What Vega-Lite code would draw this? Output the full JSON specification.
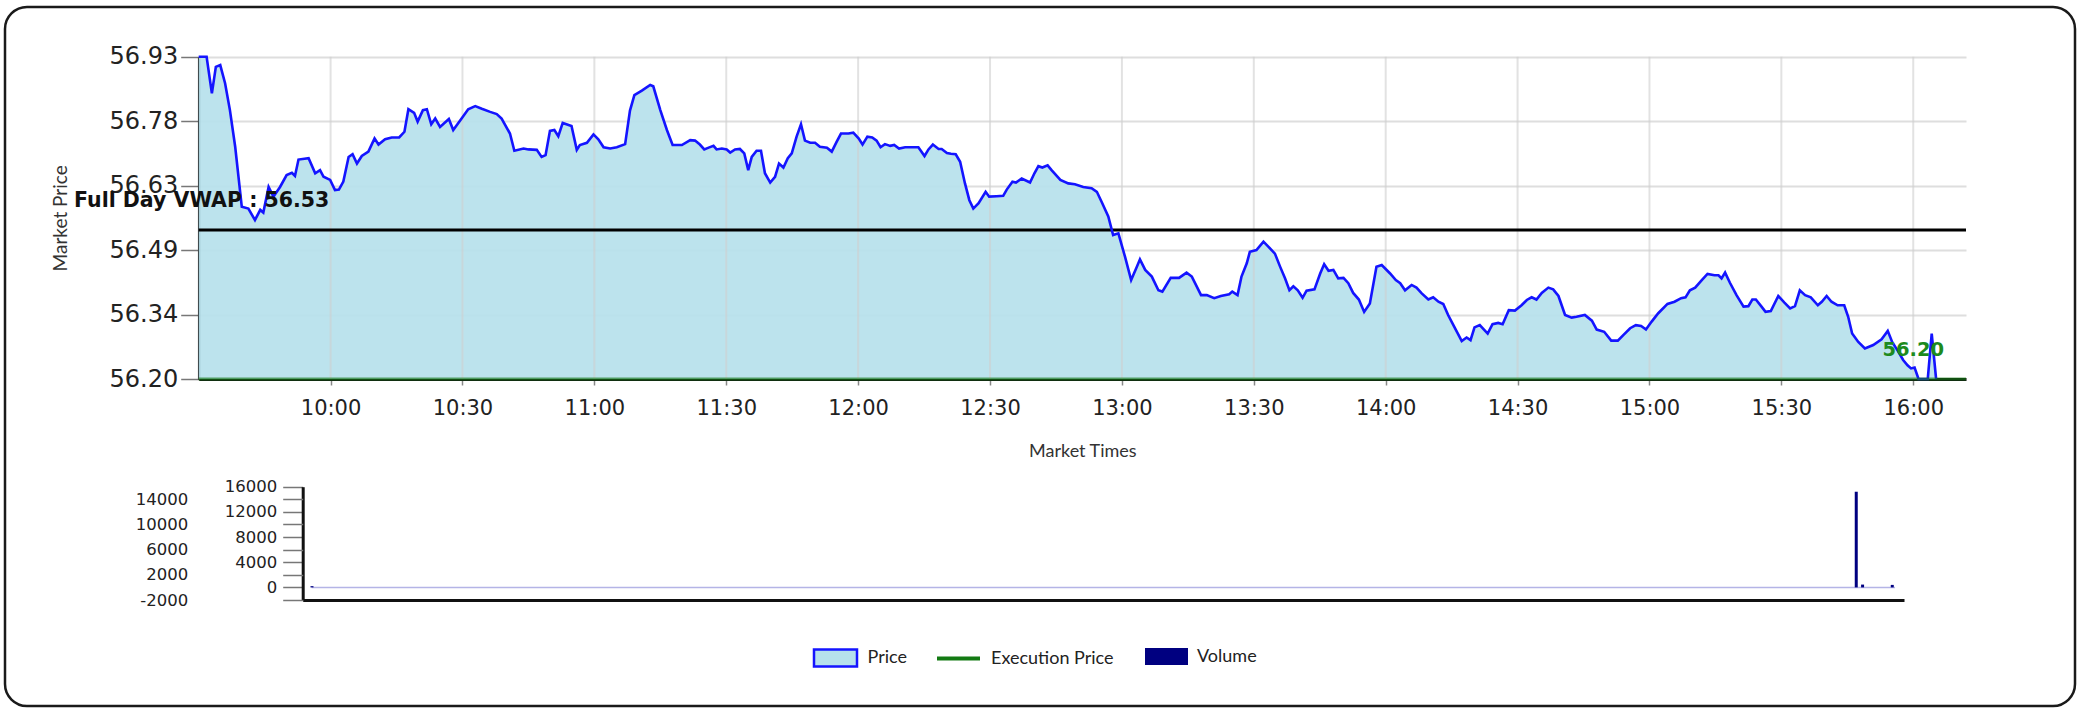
{
  "$schema": "https://vega.github.io/schema/vega-lite/v6.json",
  "width": 2070,
  "height": 699,
  "autosize": "none",
  "padding": {"left": 5, "top": 7, "right": 5, "bottom": 3},
  "background": "white",
  "config": {
    "view": {"stroke": "#1a1a1a", "strokeWidth": 2.5, "cornerRadius": 22},
    "font": "Lato"
  },
  "datasets": {
    "price": [
      {"t":"2020-01-02T09:30:00","p":56.93},{"t":"2020-01-02T09:31:48","p":56.93},{"t":"2020-01-02T09:33:00","p":56.847},{"t":"2020-01-02T09:33:54","p":56.907},{"t":"2020-01-02T09:34:54","p":56.911},
      {"t":"2020-01-02T09:36:00","p":56.870},{"t":"2020-01-02T09:37:06","p":56.809},{"t":"2020-01-02T09:38:18","p":56.726},{"t":"2020-01-02T09:39:48","p":56.590},{"t":"2020-01-02T09:41:18","p":56.586},
      {"t":"2020-01-02T09:42:48","p":56.560},{"t":"2020-01-02T09:44:00","p":56.583},{"t":"2020-01-02T09:44:42","p":56.577},{"t":"2020-01-02T09:45:54","p":56.635},{"t":"2020-01-02T09:47:00","p":56.613},
      {"t":"2020-01-02T09:48:30","p":56.635},{"t":"2020-01-02T09:50:00","p":56.662},{"t":"2020-01-02T09:51:12","p":56.667},{"t":"2020-01-02T09:51:54","p":56.660},{"t":"2020-01-02T09:52:42","p":56.697},
      {"t":"2020-01-02T09:55:00","p":56.700},{"t":"2020-01-02T09:56:30","p":56.666},{"t":"2020-01-02T09:57:36","p":56.673},{"t":"2020-01-02T09:58:24","p":56.658},{"t":"2020-01-02T09:59:54","p":56.651},
      {"t":"2020-01-02T10:01:00","p":56.628},{"t":"2020-01-02T10:01:54","p":56.629},{"t":"2020-01-02T10:02:54","p":56.647},{"t":"2020-01-02T10:04:06","p":56.703},{"t":"2020-01-02T10:05:00","p":56.709},
      {"t":"2020-01-02T10:06:00","p":56.688},{"t":"2020-01-02T10:07:06","p":56.705},{"t":"2020-01-02T10:08:36","p":56.715},{"t":"2020-01-02T10:10:00","p":56.745},{"t":"2020-01-02T10:10:54","p":56.731},
      {"t":"2020-01-02T10:12:24","p":56.743},{"t":"2020-01-02T10:13:54","p":56.747},{"t":"2020-01-02T10:15:36","p":56.747},{"t":"2020-01-02T10:16:48","p":56.760},{"t":"2020-01-02T10:17:42","p":56.811},
      {"t":"2020-01-02T10:19:00","p":56.803},{"t":"2020-01-02T10:19:48","p":56.783},{"t":"2020-01-02T10:21:00","p":56.809},{"t":"2020-01-02T10:21:54","p":56.811},{"t":"2020-01-02T10:22:54","p":56.777},
      {"t":"2020-01-02T10:23:48","p":56.790},{"t":"2020-01-02T10:24:54","p":56.771},{"t":"2020-01-02T10:26:54","p":56.789},{"t":"2020-01-02T10:27:54","p":56.764},{"t":"2020-01-02T10:29:48","p":56.790},
      {"t":"2020-01-02T10:31:18","p":56.811},{"t":"2020-01-02T10:32:54","p":56.818},{"t":"2020-01-02T10:34:24","p":56.812},{"t":"2020-01-02T10:36:18","p":56.805},{"t":"2020-01-02T10:37:48","p":56.800},
      {"t":"2020-01-02T10:38:54","p":56.790},{"t":"2020-01-02T10:40:48","p":56.756},{"t":"2020-01-02T10:41:48","p":56.717},{"t":"2020-01-02T10:43:54","p":56.722},{"t":"2020-01-02T10:45:00","p":56.720},
      {"t":"2020-01-02T10:46:54","p":56.719},{"t":"2020-01-02T10:48:00","p":56.703},{"t":"2020-01-02T10:48:54","p":56.707},{"t":"2020-01-02T10:49:54","p":56.762},{"t":"2020-01-02T10:50:54","p":56.764},
      {"t":"2020-01-02T10:51:48","p":56.750},{"t":"2020-01-02T10:52:48","p":56.780},{"t":"2020-01-02T10:54:48","p":56.773},{"t":"2020-01-02T10:56:00","p":56.719},{"t":"2020-01-02T10:56:42","p":56.730},
      {"t":"2020-01-02T10:58:18","p":56.735},{"t":"2020-01-02T10:59:48","p":56.754},{"t":"2020-01-02T11:00:54","p":56.743},{"t":"2020-01-02T11:02:06","p":56.725},{"t":"2020-01-02T11:03:36","p":56.722},
      {"t":"2020-01-02T11:05:06","p":56.725},{"t":"2020-01-02T11:07:00","p":56.732},{"t":"2020-01-02T11:08:06","p":56.808},{"t":"2020-01-02T11:09:06","p":56.843},{"t":"2020-01-02T11:10:48","p":56.853},
      {"t":"2020-01-02T11:12:42","p":56.866},{"t":"2020-01-02T11:13:24","p":56.863},{"t":"2020-01-02T11:15:00","p":56.809},{"t":"2020-01-02T11:16:30","p":56.764},{"t":"2020-01-02T11:17:48","p":56.730},
      {"t":"2020-01-02T11:19:54","p":56.730},{"t":"2020-01-02T11:21:48","p":56.741},{"t":"2020-01-02T11:22:54","p":56.740},{"t":"2020-01-02T11:24:00","p":56.731},{"t":"2020-01-02T11:25:00","p":56.720},
      {"t":"2020-01-02T11:26:00","p":56.724},{"t":"2020-01-02T11:27:06","p":56.728},{"t":"2020-01-02T11:27:48","p":56.720},{"t":"2020-01-02T11:29:00","p":56.722},{"t":"2020-01-02T11:30:06","p":56.720},
      {"t":"2020-01-02T11:30:54","p":56.713},{"t":"2020-01-02T11:32:00","p":56.720},{"t":"2020-01-02T11:33:06","p":56.721},{"t":"2020-01-02T11:34:06","p":56.711},{"t":"2020-01-02T11:35:00","p":56.673},
      {"t":"2020-01-02T11:35:48","p":56.703},{"t":"2020-01-02T11:36:54","p":56.717},{"t":"2020-01-02T11:37:54","p":56.717},{"t":"2020-01-02T11:38:48","p":56.666},{"t":"2020-01-02T11:40:00","p":56.645},
      {"t":"2020-01-02T11:41:06","p":56.658},{"t":"2020-01-02T11:42:00","p":56.688},{"t":"2020-01-02T11:43:00","p":56.679},{"t":"2020-01-02T11:44:00","p":56.700},{"t":"2020-01-02T11:44:54","p":56.711},
      {"t":"2020-01-02T11:46:00","p":56.749},{"t":"2020-01-02T11:47:00","p":56.777},{"t":"2020-01-02T11:47:54","p":56.740},{"t":"2020-01-02T11:49:06","p":56.735},{"t":"2020-01-02T11:50:12","p":56.735},
      {"t":"2020-01-02T11:51:18","p":56.726},{"t":"2020-01-02T11:52:54","p":56.724},{"t":"2020-01-02T11:54:00","p":56.715},{"t":"2020-01-02T11:55:06","p":56.737},{"t":"2020-01-02T11:56:06","p":56.756},
      {"t":"2020-01-02T11:57:48","p":56.756},{"t":"2020-01-02T11:58:54","p":56.758},{"t":"2020-01-02T12:00:06","p":56.745},{"t":"2020-01-02T12:01:00","p":56.731},{"t":"2020-01-02T12:02:06","p":56.749},
      {"t":"2020-01-02T12:03:12","p":56.747},{"t":"2020-01-02T12:04:12","p":56.740},{"t":"2020-01-02T12:05:06","p":56.725},{"t":"2020-01-02T12:06:06","p":56.732},{"t":"2020-01-02T12:07:18","p":56.728},
      {"t":"2020-01-02T12:08:12","p":56.730},{"t":"2020-01-02T12:09:18","p":56.722},{"t":"2020-01-02T12:10:42","p":56.725},{"t":"2020-01-02T12:12:36","p":56.725},{"t":"2020-01-02T12:13:42","p":56.725},
      {"t":"2020-01-02T12:15:06","p":56.705},{"t":"2020-01-02T12:16:00","p":56.720},{"t":"2020-01-02T12:17:00","p":56.731},{"t":"2020-01-02T12:18:18","p":56.721},{"t":"2020-01-02T12:19:00","p":56.721},
      {"t":"2020-01-02T12:20:12","p":56.712},{"t":"2020-01-02T12:21:06","p":56.710},{"t":"2020-01-02T12:22:12","p":56.709},{"t":"2020-01-02T12:23:12","p":56.692},{"t":"2020-01-02T12:24:18","p":56.643},
      {"t":"2020-01-02T12:25:18","p":56.605},{"t":"2020-01-02T12:26:12","p":56.586},{"t":"2020-01-02T12:27:24","p":56.598},{"t":"2020-01-02T12:29:00","p":56.624},{"t":"2020-01-02T12:29:48","p":56.613},
      {"t":"2020-01-02T12:31:30","p":56.614},{"t":"2020-01-02T12:33:00","p":56.615},{"t":"2020-01-02T12:33:48","p":56.629},{"t":"2020-01-02T12:35:06","p":56.647},{"t":"2020-01-02T12:35:54","p":56.645},
      {"t":"2020-01-02T12:37:12","p":56.654},{"t":"2020-01-02T12:39:06","p":56.645},{"t":"2020-01-02T12:40:06","p":56.666},{"t":"2020-01-02T12:41:00","p":56.682},{"t":"2020-01-02T12:41:54","p":56.679},
      {"t":"2020-01-02T12:43:06","p":56.684},{"t":"2020-01-02T12:44:00","p":56.673},{"t":"2020-01-02T12:46:00","p":56.651},{"t":"2020-01-02T12:47:48","p":56.643},{"t":"2020-01-02T12:49:18","p":56.641},
      {"t":"2020-01-02T12:51:12","p":56.635},{"t":"2020-01-02T12:53:06","p":56.632},{"t":"2020-01-02T12:54:18","p":56.624},{"t":"2020-01-02T12:55:24","p":56.601},{"t":"2020-01-02T12:56:54","p":56.568},
      {"t":"2020-01-02T12:58:00","p":56.526},{"t":"2020-01-02T12:59:12","p":56.530},{"t":"2020-01-02T13:00:42","p":56.477},{"t":"2020-01-02T13:02:06","p":56.424},{"t":"2020-01-02T13:03:24","p":56.454},
      {"t":"2020-01-02T13:04:06","p":56.471},{"t":"2020-01-02T13:05:18","p":56.447},{"t":"2020-01-02T13:06:48","p":56.432},{"t":"2020-01-02T13:08:18","p":56.401},{"t":"2020-01-02T13:09:12","p":56.398},
      {"t":"2020-01-02T13:11:06","p":56.429},{"t":"2020-01-02T13:13:00","p":56.429},{"t":"2020-01-02T13:14:42","p":56.441},{"t":"2020-01-02T13:15:54","p":56.432},{"t":"2020-01-02T13:18:00","p":56.390},
      {"t":"2020-01-02T13:19:18","p":56.390},{"t":"2020-01-02T13:21:00","p":56.383},{"t":"2020-01-02T13:22:30","p":56.388},{"t":"2020-01-02T13:24:24","p":56.392},{"t":"2020-01-02T13:25:06","p":56.398},
      {"t":"2020-01-02T13:26:18","p":56.390},{"t":"2020-01-02T13:27:12","p":56.432},{"t":"2020-01-02T13:28:24","p":56.462},{"t":"2020-01-02T13:29:06","p":56.488},{"t":"2020-01-02T13:30:36","p":56.492},
      {"t":"2020-01-02T13:32:12","p":56.511},{"t":"2020-01-02T13:33:18","p":56.500},{"t":"2020-01-02T13:34:48","p":56.484},{"t":"2020-01-02T13:36:00","p":56.454},{"t":"2020-01-02T13:37:06","p":56.428},
      {"t":"2020-01-02T13:38:06","p":56.401},{"t":"2020-01-02T13:39:00","p":56.410},{"t":"2020-01-02T13:40:00","p":56.401},{"t":"2020-01-02T13:41:06","p":56.384},{"t":"2020-01-02T13:42:00","p":56.400},
      {"t":"2020-01-02T13:43:48","p":56.403},{"t":"2020-01-02T13:45:06","p":56.439},{"t":"2020-01-02T13:46:00","p":56.460},{"t":"2020-01-02T13:47:00","p":56.445},{"t":"2020-01-02T13:48:06","p":56.447},
      {"t":"2020-01-02T13:49:12","p":56.428},{"t":"2020-01-02T13:50:24","p":56.429},{"t":"2020-01-02T13:51:30","p":56.417},{"t":"2020-01-02T13:52:36","p":56.395},{"t":"2020-01-02T13:53:54","p":56.380},
      {"t":"2020-01-02T13:55:06","p":56.352},{"t":"2020-01-02T13:56:24","p":56.371},{"t":"2020-01-02T13:57:54","p":56.454},{"t":"2020-01-02T13:59:06","p":56.458},{"t":"2020-01-02T14:01:00","p":56.439},
      {"t":"2020-01-02T14:02:18","p":56.424},{"t":"2020-01-02T14:03:18","p":56.417},{"t":"2020-01-02T14:04:24","p":56.401},{"t":"2020-01-02T14:05:54","p":56.413},{"t":"2020-01-02T14:07:00","p":56.407},
      {"t":"2020-01-02T14:08:12","p":56.394},{"t":"2020-01-02T14:09:42","p":56.380},{"t":"2020-01-02T14:10:48","p":56.385},{"t":"2020-01-02T14:12:00","p":56.375},{"t":"2020-01-02T14:13:06","p":56.370},
      {"t":"2020-01-02T14:14:12","p":56.345},{"t":"2020-01-02T14:15:24","p":56.322},{"t":"2020-01-02T14:17:18","p":56.286},{"t":"2020-01-02T14:18:24","p":56.294},{"t":"2020-01-02T14:19:18","p":56.288},
      {"t":"2020-01-02T14:20:12","p":56.317},{"t":"2020-01-02T14:21:24","p":56.322},{"t":"2020-01-02T14:23:12","p":56.303},{"t":"2020-01-02T14:24:18","p":56.324},{"t":"2020-01-02T14:25:36","p":56.327},
      {"t":"2020-01-02T14:26:36","p":56.324},{"t":"2020-01-02T14:28:00","p":56.356},{"t":"2020-01-02T14:29:24","p":56.355},{"t":"2020-01-02T14:30:54","p":56.367},{"t":"2020-01-02T14:32:06","p":56.379},
      {"t":"2020-01-02T14:33:12","p":56.385},{"t":"2020-01-02T14:34:18","p":56.380},{"t":"2020-01-02T14:35:30","p":56.395},{"t":"2020-01-02T14:37:00","p":56.407},{"t":"2020-01-02T14:38:06","p":56.403},
      {"t":"2020-01-02T14:39:18","p":56.388},{"t":"2020-01-02T14:40:48","p":56.345},{"t":"2020-01-02T14:42:18","p":56.339},{"t":"2020-01-02T14:43:24","p":56.341},{"t":"2020-01-02T14:45:18","p":56.345},
      {"t":"2020-01-02T14:46:54","p":56.332},{"t":"2020-01-02T14:48:00","p":56.312},{"t":"2020-01-02T14:49:42","p":56.307},{"t":"2020-01-02T14:51:18","p":56.287},{"t":"2020-01-02T14:52:48","p":56.287},
      {"t":"2020-01-02T14:54:06","p":56.300},{"t":"2020-01-02T14:55:36","p":56.315},{"t":"2020-01-02T14:56:54","p":56.322},{"t":"2020-01-02T14:58:06","p":56.320},{"t":"2020-01-02T14:59:12","p":56.312},
      {"t":"2020-01-02T15:00:30","p":56.330},{"t":"2020-01-02T15:02:00","p":56.349},{"t":"2020-01-02T15:04:06","p":56.370},{"t":"2020-01-02T15:05:42","p":56.375},{"t":"2020-01-02T15:07:12","p":56.383},
      {"t":"2020-01-02T15:08:12","p":56.385},{"t":"2020-01-02T15:09:12","p":56.401},{"t":"2020-01-02T15:10:24","p":56.407},{"t":"2020-01-02T15:11:54","p":56.424},{"t":"2020-01-02T15:13:12","p":56.438},
      {"t":"2020-01-02T15:14:48","p":56.435},{"t":"2020-01-02T15:15:42","p":56.435},{"t":"2020-01-02T15:16:24","p":56.428},{"t":"2020-01-02T15:17:12","p":56.441},{"t":"2020-01-02T15:18:18","p":56.418},
      {"t":"2020-01-02T15:19:48","p":56.390},{"t":"2020-01-02T15:21:24","p":56.364},{"t":"2020-01-02T15:22:30","p":56.365},{"t":"2020-01-02T15:23:24","p":56.380},{"t":"2020-01-02T15:24:12","p":56.380},
      {"t":"2020-01-02T15:25:24","p":56.365},{"t":"2020-01-02T15:26:24","p":56.352},{"t":"2020-01-02T15:27:36","p":56.354},{"t":"2020-01-02T15:29:18","p":56.388},{"t":"2020-01-02T15:30:42","p":56.373},
      {"t":"2020-01-02T15:32:00","p":56.360},{"t":"2020-01-02T15:33:06","p":56.365},{"t":"2020-01-02T15:34:12","p":56.401},{"t":"2020-01-02T15:35:24","p":56.390},{"t":"2020-01-02T15:36:42","p":56.385},
      {"t":"2020-01-02T15:38:18","p":56.367},{"t":"2020-01-02T15:39:12","p":56.375},{"t":"2020-01-02T15:40:18","p":56.388},{"t":"2020-01-02T15:41:24","p":56.375},{"t":"2020-01-02T15:42:48","p":56.367},
      {"t":"2020-01-02T15:44:18","p":56.367},{"t":"2020-01-02T15:45:12","p":56.341},{"t":"2020-01-02T15:46:06","p":56.303},{"t":"2020-01-02T15:47:30","p":56.284},{"t":"2020-01-02T15:49:00","p":56.269},
      {"t":"2020-01-02T15:50:54","p":56.277},{"t":"2020-01-02T15:52:48","p":56.290},{"t":"2020-01-02T15:54:12","p":56.309},{"t":"2020-01-02T15:55:12","p":56.284},{"t":"2020-01-02T15:56:36","p":56.262},
      {"t":"2020-01-02T15:57:42","p":56.243},{"t":"2020-01-02T15:58:42","p":56.231},{"t":"2020-01-02T15:59:30","p":56.224},{"t":"2020-01-02T16:00:18","p":56.226},{"t":"2020-01-02T16:01:12","p":56.20},
      {"t":"2020-01-02T16:03:18","p":56.20},{"t":"2020-01-02T16:04:12","p":56.303},{"t":"2020-01-02T16:05:12","p":56.20}
    ],
    "grid": [
      {"t":"2020-01-02T10:00:00"},{"t":"2020-01-02T10:30:00"},{"t":"2020-01-02T11:00:00"},{"t":"2020-01-02T11:30:00"},{"t":"2020-01-02T12:00:00"},{"t":"2020-01-02T12:30:00"},{"t":"2020-01-02T13:00:00"},
      {"t":"2020-01-02T13:30:00"},{"t":"2020-01-02T14:00:00"},{"t":"2020-01-02T14:30:00"},{"t":"2020-01-02T15:00:00"},{"t":"2020-01-02T15:30:00"},{"t":"2020-01-02T16:00:00"}
    ],
    "lines": [
      {"t0":"2020-01-02T09:30:00","t1":"2020-01-02T16:12:00","tx":"2020-01-02T16:00:00","vwap":56.5375,"exec":56.2,"vlabel":"Full Day VWAP : 56.53","elabel":"56.20"}
    ],
    "zero": [{"t0":"2020-01-02T09:31:00","t1":"2020-01-02T16:11:00","v":0}],
    "vol": [
      {"t":"2020-01-02T09:31:05","v":200},{"t":"2020-01-02T16:01:12","v":15200},{"t":"2020-01-02T16:02:48","v":450},{"t":"2020-01-02T16:10:18","v":400}
    ]
  },
  "resolve": {"scale": {"x": "independent", "y": "independent"}, "axis": {"x": "independent", "y": "independent"}},
  "layer": [
    {
      "layer": [
        {
          "data": {"name": "price"},
          "mark": {"type": "area", "fillOpacity": 0.92},
          "encoding": {
            "x": {"field": "t", "type": "temporal", "scale": {"domain": [{"year":2020,"month":1,"date":2,"hours":9,"minutes":30},{"year":2020,"month":1,"date":2,"hours":16,"minutes":12}], "range": [193.7, 1961]},
              "axis": {"orient": "bottom", "offset": -327, "format": "%H:%M",
                "values": [{"year":2020,"month":1,"date":2,"hours":10,"minutes":0},{"year":2020,"month":1,"date":2,"hours":10,"minutes":30},{"year":2020,"month":1,"date":2,"hours":11,"minutes":0},{"year":2020,"month":1,"date":2,"hours":11,"minutes":30},{"year":2020,"month":1,"date":2,"hours":12,"minutes":0},{"year":2020,"month":1,"date":2,"hours":12,"minutes":30},{"year":2020,"month":1,"date":2,"hours":13,"minutes":0},{"year":2020,"month":1,"date":2,"hours":13,"minutes":30},{"year":2020,"month":1,"date":2,"hours":14,"minutes":0},{"year":2020,"month":1,"date":2,"hours":14,"minutes":30},{"year":2020,"month":1,"date":2,"hours":15,"minutes":0},{"year":2020,"month":1,"date":2,"hours":15,"minutes":30},{"year":2020,"month":1,"date":2,"hours":16,"minutes":0}],
                "labelFont": "DejaVu Sans", "labelFontSize": 21, "labelColor": "#222", "labelPadding": 12, "labelFlush": false, "labelOverlap": false,
                "tickSize": 6, "tickColor": "#888", "tickWidth": 1.5, "domainColor": "#111", "domainWidth": 3, "grid": false,
                "title": "Market Times", "titleFont": "Lato", "titleFontSize": 18, "titleFontWeight": "normal", "titleColor": "#333", "titlePadding": 24}},
            "y": {"field": "p", "type": "quantitative", "scale": {"domain": [56.2, 56.93], "range": [372, 49.7], "zero": false, "nice": false},
              "axis": {"orient": "left", "offset": -193.7, "values": [56.2, 56.346, 56.492, 56.638, 56.784, 56.93],
                "labelExpr": "format(floor(datum.value*100+0.001)/100, '.2f')",
                "labelFont": "DejaVu Sans", "labelFontSize": 24, "labelColor": "#222", "labelPadding": 3, "labelOverlap": false,
                "tickSize": 18, "tickColor": "#777", "tickWidth": 1.5, "domainColor": "#111", "domainWidth": 2.5,
                "grid": true, "gridColor": "#dedede", "gridWidth": 2,
                "title": "Market Price", "titleFont": "Lato", "titleFontSize": 19, "titleFontWeight": "normal", "titleColor": "#333", "titlePadding": 38}},
            "y2": {"datum": 56.2},
            "fill": {"datum": "Price", "type": "nominal",
              "scale": {"domain": ["Price"], "range": ["#b6e1ec"]},
              "legend": {"orient": "none", "legendX": 807.5, "legendY": 628, "title": null,
                "symbolType": "M-1,-0.4H1V0.4H-1Z", "symbolSize": 1849, "symbolStrokeColor": "#1414ff", "symbolStrokeWidth": 2.5,
                "labelFont": "Lato", "labelFontSize": 18, "labelColor": "#222", "labelOffset": 9, "padding": 0}}
          }
        },
        {
          "data": {"name": "grid"},
          "mark": {"type": "rule", "color": "#cfcfcf", "strokeWidth": 2, "opacity": 0.6},
          "encoding": {
            "x": {"field": "t", "type": "temporal", "scale": {"domain": [{"year":2020,"month":1,"date":2,"hours":9,"minutes":30},{"year":2020,"month":1,"date":2,"hours":16,"minutes":12}], "range": [193.7, 1961]}},
            "y": {"datum": 56.2, "type": "quantitative", "scale": {"domain": [56.2, 56.93], "range": [372, 49.7], "zero": false, "nice": false}},
            "y2": {"datum": 56.93}
          }
        },
        {
          "data": {"name": "lines"},
          "mark": {"type": "rule", "color": "#000000", "strokeWidth": 3},
          "encoding": {
            "x": {"field": "t0", "type": "temporal", "scale": {"domain": [{"year":2020,"month":1,"date":2,"hours":9,"minutes":30},{"year":2020,"month":1,"date":2,"hours":16,"minutes":12}], "range": [193.7, 1961]}},
            "x2": {"field": "t1"},
            "y": {"field": "vwap", "type": "quantitative", "scale": {"domain": [56.2, 56.93], "range": [372, 49.7], "zero": false, "nice": false}}
          }
        },
        {
          "data": {"name": "price"},
          "mark": {"type": "line", "color": "#1414ff", "strokeWidth": 2.6},
          "encoding": {
            "x": {"field": "t", "type": "temporal", "scale": {"domain": [{"year":2020,"month":1,"date":2,"hours":9,"minutes":30},{"year":2020,"month":1,"date":2,"hours":16,"minutes":12}], "range": [193.7, 1961]}},
            "y": {"field": "p", "type": "quantitative", "scale": {"domain": [56.2, 56.93], "range": [372, 49.7], "zero": false, "nice": false}}
          }
        },
        {
          "data": {"name": "lines"},
          "mark": {"type": "rule", "strokeWidth": 3, "strokeOpacity": 0.6},
          "encoding": {
            "x": {"field": "t0", "type": "temporal", "scale": {"domain": [{"year":2020,"month":1,"date":2,"hours":9,"minutes":30},{"year":2020,"month":1,"date":2,"hours":16,"minutes":12}], "range": [193.7, 1961]}},
            "x2": {"field": "t1"},
            "y": {"field": "exec", "type": "quantitative", "scale": {"domain": [56.2, 56.93], "range": [372, 49.7], "zero": false, "nice": false}},
            "stroke": {"datum": "Execution Price", "type": "nominal",
              "scale": {"domain": ["Execution Price"], "range": ["#137a13"]},
              "legend": {"orient": "none", "legendX": 930, "legendY": 628, "title": null,
                "symbolType": "stroke", "symbolSize": 1849, "symbolStrokeWidth": 4, "symbolOpacity": 1,
                "labelFont": "Lato", "labelFontSize": 18, "labelColor": "#222", "labelOffset": 9, "padding": 0}}
          }
        },
        {
          "data": {"name": "lines"},
          "mark": {"type": "text", "font": "DejaVu Sans", "fontWeight": "bold", "fontSize": 20.5, "color": "#111111", "align": "center", "baseline": "alphabetic", "dx": 3, "dy": -23},
          "encoding": {
            "x": {"field": "t0", "type": "temporal", "scale": {"domain": [{"year":2020,"month":1,"date":2,"hours":9,"minutes":30},{"year":2020,"month":1,"date":2,"hours":16,"minutes":12}], "range": [193.7, 1961]}},
            "y": {"field": "vwap", "type": "quantitative", "scale": {"domain": [56.2, 56.93], "range": [372, 49.7], "zero": false, "nice": false}},
            "text": {"field": "vlabel"}
          }
        },
        {
          "data": {"name": "lines"},
          "mark": {"type": "text", "font": "DejaVu Sans", "fontWeight": "bold", "fontSize": 19.5, "color": "#1d8a1d", "align": "center", "baseline": "alphabetic", "dy": -23},
          "encoding": {
            "x": {"field": "tx", "type": "temporal", "scale": {"domain": [{"year":2020,"month":1,"date":2,"hours":9,"minutes":30},{"year":2020,"month":1,"date":2,"hours":16,"minutes":12}], "range": [193.7, 1961]}},
            "y": {"field": "exec", "type": "quantitative", "scale": {"domain": [56.2, 56.93], "range": [372, 49.7], "zero": false, "nice": false}},
            "text": {"field": "elabel"}
          }
        }
      ]
    },
    {
      "resolve": {"axis": {"y": "independent"}},
      "layer": [
        {
          "data": {"name": "zero"},
          "mark": {"type": "rule", "color": "#b4b4e6", "strokeWidth": 1.5},
          "encoding": {
            "x": {"field": "t0", "type": "temporal", "scale": {"domain": [{"year":2020,"month":1,"date":2,"hours":9,"minutes":30},{"year":2020,"month":1,"date":2,"hours":16,"minutes":12}], "range": [297.7, 1899]},
              "axis": {"orient": "bottom", "offset": -106, "labels": false, "ticks": false, "domainColor": "#111", "domainWidth": 3, "grid": false, "title": null}},
            "x2": {"field": "t1"},
            "y": {"field": "v", "type": "quantitative", "scale": {"domain": [-2000, 16000], "range": [593, 479.7], "zero": false, "nice": false},
              "axis": {"orient": "left", "offset": -297.7, "values": [0, 4000, 8000, 12000, 16000],
                "labelExpr": "'' + datum.value",
                "labelFont": "DejaVu Sans", "labelFontSize": 16.5, "labelColor": "#222", "labelPadding": 6, "labelOverlap": false,
                "tickSize": 20, "tickColor": "#777", "tickWidth": 1.5, "domainColor": "#111", "domainWidth": 3, "grid": false, "title": null}}
          }
        },
        {
          "data": {"name": "vol"},
          "mark": {"type": "bar", "width": 3},
          "encoding": {
            "x": {"field": "t", "type": "temporal", "scale": {"domain": [{"year":2020,"month":1,"date":2,"hours":9,"minutes":30},{"year":2020,"month":1,"date":2,"hours":16,"minutes":12}], "range": [297.7, 1899]}},
            "y": {"field": "v", "type": "quantitative", "scale": {"domain": [-2000, 16000], "range": [593, 479.7], "zero": false, "nice": false},
              "axis": {"orient": "left", "offset": -297.7, "values": [-2000, 2000, 6000, 10000, 14000],
                "labelExpr": "'' + datum.value",
                "labelFont": "DejaVu Sans", "labelFontSize": 16.5, "labelColor": "#222", "labelPadding": 95, "labelOverlap": false,
                "tickSize": 20, "tickColor": "#777", "tickWidth": 1.5, "domain": false, "grid": false, "title": null}},
            "y2": {"datum": 0},
            "color": {"datum": "Volume", "type": "nominal",
              "scale": {"domain": ["Volume"], "range": ["#000080"]},
              "legend": {"orient": "none", "legendX": 1140, "legendY": 628, "title": null,
                "symbolType": "M-1,-0.4H1V0.4H-1Z", "symbolSize": 1849, "symbolStrokeWidth": 0,
                "labelFont": "Lato", "labelFontSize": 18, "labelColor": "#222", "labelOffset": 9, "padding": 0}}
          }
        }
      ]
    }
  ]
}
